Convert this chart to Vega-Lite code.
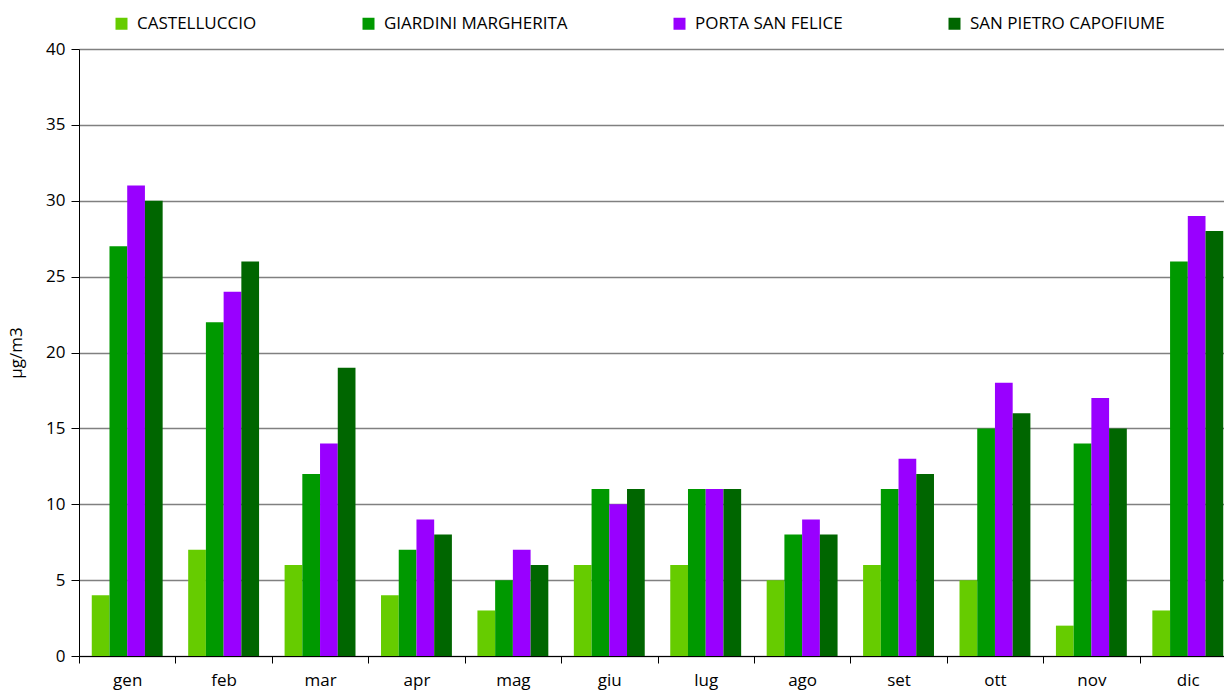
{
  "$schema": "https://vega.github.io/schema/vega-lite/v6.json",
  "width": 1145,
  "height": 607,
  "autosize": "none",
  "padding": {"left": 79, "top": 49, "right": 0, "bottom": 35},
  "background": "white",
  "config": {
    "view": {"stroke": null},
    "font": "Open Sans",
    "axis": {"labelFont": "Open Sans", "titleFont": "Open Sans", "labelColor": "#000000", "titleColor": "#000000"}
  },
  "data": {
    "values": [
      {"mese": "gen", "stazione": "CASTELLUCCIO", "valore": 4},
      {"mese": "gen", "stazione": "GIARDINI MARGHERITA", "valore": 27},
      {"mese": "gen", "stazione": "PORTA SAN FELICE", "valore": 31},
      {"mese": "gen", "stazione": "SAN PIETRO CAPOFIUME", "valore": 30},
      {"mese": "feb", "stazione": "CASTELLUCCIO", "valore": 7},
      {"mese": "feb", "stazione": "GIARDINI MARGHERITA", "valore": 22},
      {"mese": "feb", "stazione": "PORTA SAN FELICE", "valore": 24},
      {"mese": "feb", "stazione": "SAN PIETRO CAPOFIUME", "valore": 26},
      {"mese": "mar", "stazione": "CASTELLUCCIO", "valore": 6},
      {"mese": "mar", "stazione": "GIARDINI MARGHERITA", "valore": 12},
      {"mese": "mar", "stazione": "PORTA SAN FELICE", "valore": 14},
      {"mese": "mar", "stazione": "SAN PIETRO CAPOFIUME", "valore": 19},
      {"mese": "apr", "stazione": "CASTELLUCCIO", "valore": 4},
      {"mese": "apr", "stazione": "GIARDINI MARGHERITA", "valore": 7},
      {"mese": "apr", "stazione": "PORTA SAN FELICE", "valore": 9},
      {"mese": "apr", "stazione": "SAN PIETRO CAPOFIUME", "valore": 8},
      {"mese": "mag", "stazione": "CASTELLUCCIO", "valore": 3},
      {"mese": "mag", "stazione": "GIARDINI MARGHERITA", "valore": 5},
      {"mese": "mag", "stazione": "PORTA SAN FELICE", "valore": 7},
      {"mese": "mag", "stazione": "SAN PIETRO CAPOFIUME", "valore": 6},
      {"mese": "giu", "stazione": "CASTELLUCCIO", "valore": 6},
      {"mese": "giu", "stazione": "GIARDINI MARGHERITA", "valore": 11},
      {"mese": "giu", "stazione": "PORTA SAN FELICE", "valore": 10},
      {"mese": "giu", "stazione": "SAN PIETRO CAPOFIUME", "valore": 11},
      {"mese": "lug", "stazione": "CASTELLUCCIO", "valore": 6},
      {"mese": "lug", "stazione": "GIARDINI MARGHERITA", "valore": 11},
      {"mese": "lug", "stazione": "PORTA SAN FELICE", "valore": 11},
      {"mese": "lug", "stazione": "SAN PIETRO CAPOFIUME", "valore": 11},
      {"mese": "ago", "stazione": "CASTELLUCCIO", "valore": 5},
      {"mese": "ago", "stazione": "GIARDINI MARGHERITA", "valore": 8},
      {"mese": "ago", "stazione": "PORTA SAN FELICE", "valore": 9},
      {"mese": "ago", "stazione": "SAN PIETRO CAPOFIUME", "valore": 8},
      {"mese": "set", "stazione": "CASTELLUCCIO", "valore": 6},
      {"mese": "set", "stazione": "GIARDINI MARGHERITA", "valore": 11},
      {"mese": "set", "stazione": "PORTA SAN FELICE", "valore": 13},
      {"mese": "set", "stazione": "SAN PIETRO CAPOFIUME", "valore": 12},
      {"mese": "ott", "stazione": "CASTELLUCCIO", "valore": 5},
      {"mese": "ott", "stazione": "GIARDINI MARGHERITA", "valore": 15},
      {"mese": "ott", "stazione": "PORTA SAN FELICE", "valore": 18},
      {"mese": "ott", "stazione": "SAN PIETRO CAPOFIUME", "valore": 16},
      {"mese": "nov", "stazione": "CASTELLUCCIO", "valore": 2},
      {"mese": "nov", "stazione": "GIARDINI MARGHERITA", "valore": 14},
      {"mese": "nov", "stazione": "PORTA SAN FELICE", "valore": 17},
      {"mese": "nov", "stazione": "SAN PIETRO CAPOFIUME", "valore": 15},
      {"mese": "dic", "stazione": "CASTELLUCCIO", "valore": 3},
      {"mese": "dic", "stazione": "GIARDINI MARGHERITA", "valore": 26},
      {"mese": "dic", "stazione": "PORTA SAN FELICE", "valore": 29},
      {"mese": "dic", "stazione": "SAN PIETRO CAPOFIUME", "valore": 28}
    ]
  },
  "mark": {"type": "bar"},
  "encoding": {
    "x": {
      "field": "mese",
      "type": "nominal",
      "sort": ["gen","feb","mar","apr","mag","giu","lug","ago","set","ott","nov","dic"],
      "scale": {"paddingInner": 0, "paddingOuter": 0, "range": [0, 1157]},
      "axis": {
        "title": null,
        "labelAngle": 0,
        "tickBand": "extent",
        "tickSize": 7,
        "tickColor": "#000000",
        "domainColor": "#000000",
        "labelFontSize": 17,
        "labelPadding": 9,
        "grid": false
      }
    },
    "xOffset": {
      "field": "stazione",
      "type": "nominal",
      "scale": {"paddingInner": 0, "paddingOuter": 0.72}
    },
    "y": {
      "field": "valore",
      "type": "quantitative",
      "scale": {"domain": [0, 40]},
      "axis": {
        "title": "µg/m3",
        "titleFontSize": 17,
        "titleFontWeight": "normal",
        "titlePadding": 20,
        "values": [0,5,10,15,20,25,30,35,40],
        "tickSize": 8,
        "tickColor": "#000000",
        "domainColor": "#000000",
        "labelFontSize": 17,
        "labelPadding": 6,
        "gridColor": "#808080",
        "gridWidth": 1.5,
        "gridOpacity": 1
      }
    },
    "color": {
      "field": "stazione",
      "type": "nominal",
      "scale": {
        "domain": ["CASTELLUCCIO", "GIARDINI MARGHERITA", "PORTA SAN FELICE", "SAN PIETRO CAPOFIUME"],
        "range": ["#66CC00", "#009900", "#9900FF", "#006600"]
      },
      "legend": {
        "title": null,
        "orient": "none",
        "legendX": 34,
        "legendY": -34,
        "direction": "horizontal",
        "symbolType": "square",
        "symbolSize": 144,
        "symbolStrokeWidth": 0,
        "labelFontSize": 17,
        "labelColor": "#000000",
        "labelOffset": 7,
        "columnPadding": 103,
        "labelLimit": 400
      }
    }
  }
}
